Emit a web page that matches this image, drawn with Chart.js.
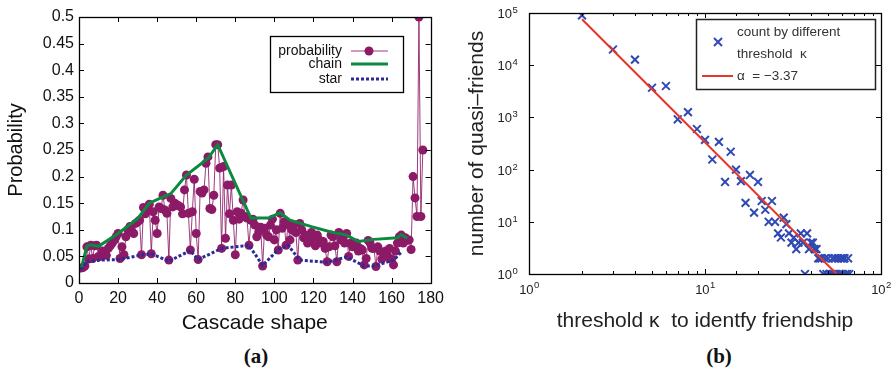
<!doctype html>
<html lang="en">
<head>
  <meta charset="utf-8">
  <title>Cascade shape probability / quasi-friends</title>
  <style>
    * {
      margin: 0;
      padding: 0;
    }
    body {
      width: 893px;
      height: 369px;
      background: white;
      position: relative;
      overflow: hidden;
      font-family: "Liberation Sans", Arial, sans-serif;
    }
    #boxA { position: absolute; left: 0; top: 0; width: 450px; height: 340px; }
    #boxB { position: absolute; left: 450px; top: 0; width: 443px; height: 340px; }
    .tag {
      position: absolute;
      top: 344px;
      transform: translateX(-50%);
      font: bold 21px "Liberation Serif", "Times New Roman", serif;
      color: #111;
    }
  </style>
</head>
<body>
  <div id="boxA"><canvas id="chartA"></canvas></div>
  <div id="boxB"><canvas id="chartB"></canvas></div>
  <div class="tag" style="left:256px">(a)</div>
  <div class="tag" style="left:719px">(b)</div>

  <script src="https://cdn.jsdelivr.net/npm/chart.js"></script>
  <script>
    // (a) probability of each cascade shape, shape ids 1..176
    const shapeProb = [
      0.028, 0.029, 0.032, 0.068, 0.045, 0.071, 0.046, 0.07, 0.071, 0.05,
      0.05, 0.06, 0.056, 0.052, 0.065, 0.07, 0.075, 0.08, 0.087, 0.093,
      0.046, 0.068, 0.053, 0.087, 0.1, 0.106, 0.098, 0.093, 0.112, 0.115,
      0.118, 0.053, 0.142, 0.13, 0.137, 0.148, 0.055, 0.134, 0.118, 0.093,
      0.143, 0.14, 0.165, 0.137, 0.131, 0.043, 0.159, 0.143, 0.15, 0.147,
      0.145, 0.143, 0.13, 0.175, 0.203, 0.131, 0.062, 0.134, 0.195, 0.093,
      0.044, 0.172, 0.169, 0.175, 0.225, 0.237, 0.14, 0.138, 0.165, 0.26,
      0.26, 0.216, 0.065, 0.219, 0.084, 0.184, 0.13, 0.184, 0.118, 0.053,
      0.134, 0.12, 0.131, 0.156, 0.125, 0.122, 0.071, 0.118, 0.12, 0.109,
      0.087, 0.096, 0.105, 0.032, 0.103, 0.09, 0.087, 0.109, 0.12, 0.081,
      0.1, 0.062, 0.131, 0.103, 0.115, 0.071, 0.11, 0.081, 0.1, 0.109,
      0.095, 0.043, 0.112, 0.1, 0.085, 0.09, 0.075, 0.078, 0.095, 0.087,
      0.07, 0.09, 0.081, 0.075, 0.078, 0.065, 0.04, 0.068, 0.09, 0.087,
      0.07, 0.04, 0.095, 0.081, 0.085, 0.075, 0.093, 0.05, 0.075, 0.068,
      0.07, 0.075, 0.06, 0.065, 0.062, 0.034, 0.046, 0.08, 0.075, 0.065,
      0.065, 0.031, 0.068, 0.06, 0.045, 0.056, 0.06, 0.05, 0.065, 0.045,
      0.034, 0.06, 0.075, 0.087, 0.09, 0.075, 0.085, 0.08, 0.081, 0.063,
      0.2, 0.16, 0.125, 0.5, 0.125, 0.25
    ];
    const chainX = [1, 4, 6, 10, 20, 30, 36, 43, 47, 55, 66, 71, 88, 97, 103, 108, 119, 129, 137, 143, 151, 163, 165, 168];
    const chainY = [0.025, 0.069, 0.072, 0.069, 0.093, 0.121, 0.15, 0.162, 0.168, 0.203, 0.234, 0.26, 0.122, 0.122, 0.132, 0.118, 0.106, 0.096, 0.09, 0.078, 0.082, 0.085, 0.091, 0.084];
    const starX = [1, 4, 11, 21, 31, 37, 46, 57, 61, 73, 87, 94, 102, 107, 113, 127, 137, 146, 151, 161, 165];
    const starY = [0.025, 0.04, 0.043, 0.044, 0.052, 0.055, 0.041, 0.061, 0.044, 0.065, 0.071, 0.033, 0.063, 0.071, 0.043, 0.039, 0.049, 0.032, 0.032, 0.043, 0.058];

    // (b) number of quasi-friends per threshold kappa
    const kappa = [2, 3, 4, 5, 6, 7, 8, 9, 10, 11, 12, 13, 14, 15, 16, 17, 18, 19, 20, 21,
      22, 23, 24, 25, 26, 27, 28, 29, 30, 31, 32, 33, 34, 35, 36, 37, 38, 39, 40, 41,
      42, 43, 44, 45, 46, 47, 48, 49, 50, 51, 52, 53, 54, 55, 56, 57, 58, 59, 60, 61,
      62, 63, 64, 65, 66];
    const friendCount = [90000, 20000, 12800, 3700, 4000, 920, 1260, 600, 370, 156, 340, 58, 220, 100, 60, 23, 79, 15, 58, 25,
      17, 10, 25, 10, 6, 5, 12, 9, 6, 4, 5, 3, 4, 6, 4, 1, 6, 3, 4, 4,
      3, 3, 2, 2, 2, 1, 2, 1, 2, 1, 1, 2, 1, 2, 1, 2, 1, 2, 1, 2,
      2, 1, 1, 2, 1];
    const fitK = [2, 56];
    const fitN = [76000, 1];

    Chart.defaults.font.family = '"Liberation Sans", Arial, sans-serif';
    Chart.defaults.color = '#111';

    const isPow10 = (v) => Math.abs(Math.log10(v) - Math.round(Math.log10(v))) < 1e-9;

    // ticks pointing inwards on all four sides plus the frame
    function boxTicks(major, minor, minorAxes) {
      return {
        id: 'boxTicks',
        afterDraw(chart) {
          const { ctx, chartArea: a } = chart;
          const sx = chart.scales.x, sy = chart.scales.y;
          const isMajor = (scale, v) => scale.type !== 'logarithmic' || isPow10(v);
          ctx.save();
          ctx.strokeStyle = '#000';
          ctx.lineWidth = 1;
          ctx.beginPath();
          sx.ticks.forEach(t => {
            const l = isMajor(sx, t.value) ? major : (minorAxes.includes('x') ? minor : 0);
            if (!l) return;
            const px = Math.round(sx.getPixelForValue(t.value)) + 0.5;
            ctx.moveTo(px, a.bottom); ctx.lineTo(px, a.bottom - l);
            ctx.moveTo(px, a.top); ctx.lineTo(px, a.top + l);
          });
          sy.ticks.forEach(t => {
            const l = isMajor(sy, t.value) ? major : (minorAxes.includes('y') ? minor : 0);
            if (!l) return;
            const py = Math.round(sy.getPixelForValue(t.value)) + 0.5;
            ctx.moveTo(a.left, py); ctx.lineTo(a.left + l, py);
            ctx.moveTo(a.right, py); ctx.lineTo(a.right - l, py);
          });
          ctx.stroke();
          ctx.lineWidth = 1.3;
          ctx.strokeRect(Math.round(a.left) + 0.5, Math.round(a.top) + 0.5,
            Math.round(a.width), Math.round(a.height));
          ctx.restore();
        }
      };
    }

    // "10" with a raised exponent for the log axes
    const powerLabels = {
      id: 'powerLabels',
      afterDraw(chart) {
        const { ctx, chartArea: a } = chart;
        const baseFont = '13px "Liberation Sans", Arial, sans-serif';
        const expFont = '9.5px "Liberation Sans", Arial, sans-serif';
        ctx.save();
        ctx.fillStyle = '#222';
        ctx.textBaseline = 'alphabetic';
        ctx.textAlign = 'left';
        chart.scales.x.ticks.forEach(t => {
          if (!isPow10(t.value)) return;
          const e = String(Math.round(Math.log10(t.value)));
          const px = chart.scales.x.getPixelForValue(t.value);
          ctx.font = baseFont;
          const w1 = ctx.measureText('10').width;
          ctx.font = expFont;
          const w2 = ctx.measureText(e).width;
          const x0 = px - (w1 + w2) / 2;
          ctx.font = baseFont;
          ctx.fillText('10', x0, a.bottom + 20);
          ctx.font = expFont;
          ctx.fillText(e, x0 + w1 + 0.5, a.bottom + 14);
        });
        chart.scales.y.ticks.forEach(t => {
          if (!isPow10(t.value)) return;
          const e = String(Math.round(Math.log10(t.value)));
          const py = chart.scales.y.getPixelForValue(t.value);
          ctx.font = baseFont;
          const w1 = ctx.measureText('10').width;
          const x1 = a.left - 17;
          ctx.fillText('10', x1 - w1, py + 5);
          ctx.font = expFont;
          ctx.fillText(e, x1 + 0.5, py);
        });
        ctx.restore();
      }
    };

    const legendA = {
      id: 'legendA',
      afterDraw(chart) {
        const ctx = chart.ctx;
        const rows = [51, 64, 79];
        ctx.save();
        ctx.strokeStyle = '#000';
        ctx.lineWidth = 1.3;
        ctx.strokeRect(270.5, 36.5, 133, 56);
        ctx.font = '14px "Liberation Sans", Arial, sans-serif';
        ctx.textAlign = 'right';
        ctx.textBaseline = 'middle';
        chart.data.datasets.forEach((ds, i) => {
          const y = rows[i];
          ctx.fillStyle = '#111';
          ctx.fillText(ds.label, 342, y);
          ctx.strokeStyle = ds.borderColor;
          ctx.lineWidth = ds.borderWidth;
          ctx.setLineDash(ds.borderDash || []);
          ctx.beginPath();
          ctx.moveTo(351, y); ctx.lineTo(388, y);
          ctx.stroke();
          ctx.setLineDash([]);
          if (ds.pointRadius) {
            ctx.fillStyle = ds.pointBackgroundColor;
            ctx.beginPath();
            ctx.arc(369, y, ds.pointRadius, 0, Math.PI * 2);
            ctx.fill();
          }
        });
        ctx.restore();
      }
    };

    const legendB = {
      id: 'legendB',
      afterDraw(chart) {
        const ctx = chart.ctx;
        const [pts, fit] = chart.data.datasets;
        ctx.save();
        ctx.strokeStyle = '#222';
        ctx.lineWidth = 1.5;
        ctx.strokeRect(246.5, 19.5, 179, 70);
        ctx.font = '13.5px "Liberation Sans", Arial, sans-serif';
        ctx.textAlign = 'left';
        ctx.textBaseline = 'middle';
        ctx.fillStyle = '#333';
        const lines = pts.label.split('\n');
        ctx.fillText(lines[0], 287, 32);
        ctx.fillText(lines[1], 287, 54);
        ctx.fillText(fit.label, 287, 76);
        // cross marker
        ctx.strokeStyle = pts.borderColor;
        ctx.lineWidth = 2;
        const r = 4;
        ctx.beginPath();
        ctx.moveTo(268 - r, 42 - r); ctx.lineTo(268 + r, 42 + r);
        ctx.moveTo(268 + r, 42 - r); ctx.lineTo(268 - r, 42 + r);
        ctx.stroke();
        ctx.strokeStyle = fit.borderColor;
        ctx.lineWidth = fit.borderWidth;
        ctx.beginPath();
        ctx.moveTo(252, 76); ctx.lineTo(283, 76);
        ctx.stroke();
        ctx.restore();
      }
    };

    const purple = '#8c1a66';

    new Chart(document.getElementById('chartA'), {
      type: 'line',
      data: {
        datasets: [
          {
            label: 'probability',
            data: shapeProb.map((p, i) => ({ x: i + 1, y: p })),
            borderColor: 'rgba(140, 26, 102, 0.85)',
            borderWidth: 1,
            pointRadius: 4.5,
            pointBackgroundColor: purple,
            pointBorderColor: purple,
            pointBorderWidth: 0,
            order: 3
          },
          {
            label: 'chain',
            data: chainX.map((x, i) => ({ x, y: chainY[i] })),
            borderColor: '#0a8a3e',
            borderWidth: 3,
            pointRadius: 0,
            order: 2
          },
          {
            label: 'star',
            data: starX.map((x, i) => ({ x, y: starY[i] })),
            borderColor: '#2b2b96',
            borderWidth: 3,
            borderDash: [3, 2],
            pointRadius: 0,
            order: 1
          }
        ]
      },
      options: {
        responsive: true,
        maintainAspectRatio: false,
        animation: false,
        layout: { padding: { left: 0, top: 17, right: 16, bottom: 0 } },
        scales: {
          x: {
            type: 'linear',
            min: 0,
            max: 180,
            grid: { display: false, drawTicks: false },
            border: { display: false },
            ticks: { stepSize: 20, padding: 6, autoSkip: false, maxRotation: 0, font: { size: 16 }, color: '#111' },
            title: { display: true, text: 'Cascade shape', font: { size: 21 }, color: '#111', padding: { top: 0, bottom: 4 } },
            afterFit: (s) => { s.height = 57; }
          },
          y: {
            min: 0,
            max: 0.5,
            grid: { display: false, drawTicks: false },
            border: { display: false },
            ticks: {
              stepSize: 0.05, padding: 5, autoSkip: false, font: { size: 16 }, color: '#111',
              callback: (v) => String(+v.toFixed(2))
            },
            title: { display: true, text: 'Probability', font: { size: 20 }, color: '#111', padding: { top: 4, bottom: 0 } },
            afterFit: (s) => { s.width = 79; }
          }
        },
        plugins: { legend: { display: false }, tooltip: { enabled: false } }
      },
      plugins: [boxTicks(5, 0, []), legendA]
    });

    new Chart(document.getElementById('chartB'), {
      type: 'scatter',
      data: {
        datasets: [
          {
            label: 'count by different\nthreshold  \u03ba',
            data: kappa.map((k, i) => ({ x: k, y: friendCount[i] })),
            pointStyle: 'crossRot',
            pointRadius: 5.5,
            borderColor: '#2f49b3',
            borderWidth: 2,
            order: 2
          },
          {
            label: '\u03b1  = \u22123.37',
            type: 'line',
            data: fitK.map((k, i) => ({ x: k, y: fitN[i] })),
            borderColor: '#e8352b',
            borderWidth: 2,
            pointRadius: 0,
            order: 1
          }
        ]
      },
      options: {
        responsive: true,
        maintainAspectRatio: false,
        animation: false,
        layout: { padding: { left: 0, top: 13, right: 12, bottom: 0 } },
        scales: {
          x: {
            type: 'logarithmic',
            min: 1,
            max: 100,
            grid: { display: false, drawTicks: false },
            border: { display: false },
            ticks: { display: false, autoSkip: false },
            title: { display: true, text: 'threshold \u03ba  to identfy friendship', font: { size: 21 }, color: '#222', padding: { top: 0, bottom: 6 } },
            afterFit: (s) => { s.height = 66; }
          },
          y: {
            type: 'logarithmic',
            min: 1,
            max: 100000,
            grid: { display: false, drawTicks: false },
            border: { display: false },
            ticks: { display: false, autoSkip: false },
            title: { display: true, text: 'number of quasi\u2013friends', font: { size: 21 }, color: '#222', padding: { top: 15, bottom: 0 } },
            afterFit: (s) => { s.width = 79; }
          }
        },
        plugins: { legend: { display: false }, tooltip: { enabled: false } }
      },
      plugins: [boxTicks(5, 3, ['x']), powerLabels, legendB]
    });
  </script>
</body>
</html>
